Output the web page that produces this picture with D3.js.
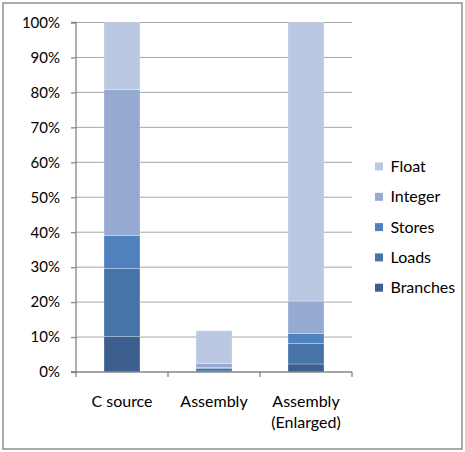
<!DOCTYPE html>
<html>
<head>
<meta charset="utf-8">
<script src="https://cdn.jsdelivr.net/npm/d3@7"></script>
<style>
  html, body { margin: 0; padding: 0; background: #fff; }
  svg { display: block; font-family: Lato, "Open Sans", sans-serif; }
</style>
</head>
<body>
<svg id="chart" width="465" height="452"></svg>
<script>
// Instruction mix per program variant, as percentages of the C source total
const categories = ["C source", "Assembly", "Assembly\n(Enlarged)"];
const seriesNames = ["Branches", "Loads", "Stores", "Integer", "Float"];
const branches = [10.2, 0.27, 2.3];
const loads    = [19.4, 0.70, 5.9];
const stores   = [9.5, 0.33, 2.8];
const integer  = [41.7, 1.10, 9.3];
const float    = [19.2, 9.40, 79.7];
const yTicks = [0, 10, 20, 30, 40, 50, 60, 70, 80, 90, 100];
const colors = ["#3c5f8f", "#4673a8", "#4f81bd", "#96aad1", "#bac8e2"];

const seriesValues = [branches, loads, stores, integer, float];
const rows = categories.map((c, i) => {
  const r = { cat: c };
  seriesNames.forEach((s, k) => { r[s] = seriesValues[k][i]; });
  return r;
});

const svg = d3.select("#chart");
const plot = { left: 76, right: 352, top: 22.5, bottom: 372 };

// chart frame
svg.append("rect")
  .attr("x", 3).attr("y", 3).attr("width", 459).attr("height", 446)
  .attr("fill", "#fff").attr("stroke", "#8e8e8e").attr("stroke-width", 1.5);

const x = d3.scaleBand().domain(categories).range([plot.left, plot.right]).paddingInner(0).paddingOuter(0);
const y = d3.scaleLinear().domain([0, 100]).range([plot.bottom, plot.top]);

// gridlines
svg.append("g").selectAll("line").data(yTicks.filter(t => t > 0)).join("line")
  .attr("x1", plot.left).attr("x2", plot.right)
  .attr("y1", d => y(d)).attr("y2", d => y(d))
  .attr("stroke", "#a6a6a6").attr("stroke-width", 1);

// stacked bars
const stack = d3.stack().keys(seriesNames)(rows);
const barW = 36;
svg.append("g").selectAll("g").data(stack).join("g")
  .attr("fill", (d, i) => colors[i])
  .selectAll("rect").data(d => d).join("rect")
  .attr("x", d => x(d.data.cat) + x.bandwidth() / 2 - barW / 2)
  .attr("width", barW)
  .attr("y", d => y(d[1]))
  .attr("height", d => y(d[0]) - y(d[1]))
  .attr("stroke", "rgba(255,255,255,0.35)").attr("stroke-width", 0.8);

// y axis
const yAxis = d3.axisLeft(y).tickValues(yTicks).tickSize(5).tickFormat(d => d + "%");
const gy = svg.append("g").attr("transform", `translate(${plot.left},0)`).call(yAxis);
gy.select(".domain").attr("stroke", "#868686").attr("stroke-width", 1.3).attr("d", `M-5,${plot.top}H0V${plot.bottom}H-5`);
gy.selectAll(".tick line").attr("stroke", "#868686").attr("stroke-width", 1.3);
gy.selectAll(".tick text").attr("x", -16).attr("fill", "#000")
  .style("font-size", "15px").style("font-family", "Lato, sans-serif");

// x axis
const gx = svg.append("g").attr("transform", `translate(0,${plot.bottom})`);
gx.append("line").attr("x1", plot.left - 5).attr("x2", plot.right)
  .attr("stroke", "#868686").attr("stroke-width", 1.5);
const bounds = categories.map(c => x(c)).concat([plot.right]);
gx.selectAll("line.tk").data(bounds).join("line").attr("class", "tk")
  .attr("x1", d => d).attr("x2", d => d).attr("y1", 0).attr("y2", 5)
  .attr("stroke", "#868686").attr("stroke-width", 1.3);
gx.selectAll("text").data(categories).join("text")
  .attr("text-anchor", "middle")
  .attr("x", d => x(d) + x.bandwidth() / 2)
  .style("font-size", "16px").attr("fill", "#000")
  .each(function(d) {
    const lines = d.split("\n");
    d3.select(this).selectAll("tspan").data(lines).join("tspan")
      .attr("x", x(d) + x.bandwidth() / 2)
      .attr("y", (l, i) => 35 + i * 21)
      .text(l => l);
  });

// legend, top entry is the top of the stack
const legendItems = seriesNames.map((s, i) => ({ name: s, color: colors[i] })).reverse();
const lg = svg.append("g").selectAll("g").data(legendItems).join("g")
  .attr("transform", (d, i) => `translate(375,${166.5 + i * 30.3})`);
lg.append("rect").attr("x", 0).attr("y", -4).attr("width", 8).attr("height", 8).attr("fill", d => d.color);
lg.append("text").attr("x", 15.5).attr("y", 5.5).style("font-size", "16px").attr("fill", "#000").text(d => d.name);
</script>
</body>
</html>
